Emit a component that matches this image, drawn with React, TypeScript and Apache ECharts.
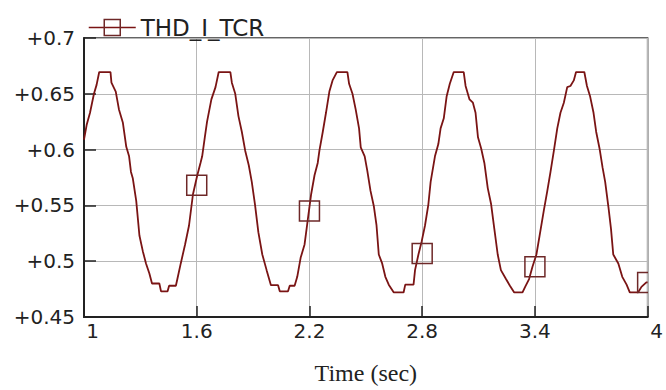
import React, { useEffect, useRef } from "react";
import * as echarts from "echarts";

const SERIES_NAME = "THD_I_TCR";
const X_NAME = "Time (sec)";

const TIME = [
  1.0, 1.014, 1.032, 1.053, 1.067, 1.081, 1.141, 1.146, 1.169, 1.186, 1.207, 1.225, 1.24, 1.25, 1.26,
  1.278, 1.295, 1.313, 1.33, 1.348, 1.362, 1.401, 1.41, 1.445, 1.453, 1.489, 1.497, 1.515, 1.538, 1.559,
  1.58, 1.603, 1.62, 1.629, 1.643, 1.655, 1.678, 1.7, 1.717, 1.779, 1.787, 1.805, 1.822, 1.84, 1.858,
  1.877, 1.893, 1.91, 1.928, 1.949, 1.972, 1.995, 2.033, 2.042, 2.086, 2.095, 2.121, 2.135, 2.153, 2.174,
  2.191, 2.209, 2.227, 2.244, 2.253, 2.271, 2.288, 2.306, 2.323, 2.346, 2.402, 2.411, 2.429, 2.446, 2.464,
  2.473, 2.494, 2.508, 2.525, 2.543, 2.557, 2.569, 2.587, 2.604, 2.622, 2.649, 2.701, 2.71, 2.754, 2.762,
  2.78, 2.797, 2.815, 2.833, 2.845, 2.868, 2.886, 2.898, 2.915, 2.93, 2.947, 2.968, 3.021, 3.031, 3.052,
  3.07, 3.084, 3.097, 3.114, 3.131, 3.149, 3.167, 3.184, 3.202, 3.219, 3.246, 3.267, 3.29, 3.334, 3.348,
  3.369, 3.387, 3.408, 3.425, 3.448, 3.466, 3.483, 3.501, 3.519, 3.536, 3.554, 3.572, 3.589, 3.607, 3.619,
  3.663, 3.677, 3.694, 3.712, 3.726, 3.744, 3.76, 3.774, 3.791, 3.805, 3.817, 3.844, 3.865, 3.888, 3.905,
  3.949, 3.967, 3.993, 4.0,
];

const THD = [
  0.609, 0.622, 0.633, 0.65, 0.658, 0.6695, 0.6695, 0.66, 0.652, 0.636, 0.624, 0.6025, 0.594, 0.58, 0.574,
  0.554, 0.523, 0.509, 0.498, 0.489, 0.48, 0.48, 0.473, 0.473, 0.478, 0.478, 0.484, 0.498, 0.515, 0.532,
  0.56, 0.577, 0.588, 0.594, 0.611, 0.625, 0.645, 0.656, 0.6695, 0.6695, 0.66, 0.65, 0.63, 0.616, 0.599,
  0.586, 0.571, 0.551, 0.526, 0.506, 0.492, 0.4785, 0.4785, 0.473, 0.473, 0.478, 0.478, 0.486, 0.503, 0.515,
  0.537, 0.56, 0.577, 0.588, 0.599, 0.616, 0.633, 0.652, 0.662, 0.6695, 0.6695, 0.659, 0.65, 0.636, 0.619,
  0.602, 0.594, 0.581, 0.563, 0.549, 0.532, 0.506, 0.498, 0.486, 0.479, 0.472, 0.472, 0.479, 0.479, 0.492,
  0.506, 0.5175, 0.532, 0.551, 0.571, 0.594, 0.605, 0.619, 0.628, 0.6475, 0.659, 0.6695, 0.6695, 0.657, 0.645,
  0.642, 0.633, 0.611, 0.601, 0.588, 0.5655, 0.551, 0.529, 0.506, 0.492, 0.484, 0.478, 0.472, 0.472, 0.477,
  0.484, 0.495, 0.506, 0.523, 0.546, 0.563, 0.58, 0.599, 0.619, 0.633, 0.642, 0.656, 0.657, 0.662, 0.6695,
  0.6695, 0.657, 0.6475, 0.633, 0.616, 0.601, 0.584, 0.571, 0.549, 0.529, 0.506, 0.498, 0.486, 0.479, 0.472,
  0.472, 0.477, 0.481, 0.481,
];

const MARK_TIME = [1.6, 2.2, 2.8, 3.4, 4.0];
const MARK_THD = [0.568, 0.545, 0.507, 0.495, 0.481];

const X_MIN = 1;
const X_MAX = 4;
const X_STEP = 0.6;
const Y_MIN = 0.45;
const Y_MAX = 0.7;
const Y_STEP = 0.05;

const LINE_COLOR = "#7a1414";
const MARK_COLOR = "#6e2828";
const AXIS_COLOR = "#222";
const GRID_COLOR = "#b8b8b8";
const SANS = "DejaVu Sans";

export default function App() {
  const ref = useRef<HTMLDivElement>(null);

  useEffect(() => {
    if (!ref.current) return;
    const chart = echarts.init(ref.current, null, { renderer: "svg" });
    const lineData = TIME.map((t, i) => [t - X_MIN, THD[i]]);
    const markData = MARK_TIME.map((t, i) => [t - X_MIN, MARK_THD[i]]);
    const span = X_MAX - X_MIN;

    const xFmt = (v: number) => {
      const s = String(parseFloat((v + X_MIN).toFixed(2)));
      if (Math.abs(v) < 1e-6) return `{l|${s}}`;
      if (Math.abs(v - span) < 1e-6) return `{r|${s}}`;
      return `{n|${s}}`;
    };
    const labelBase = { fontFamily: SANS, fontSize: 20, color: AXIS_COLOR };

    chart.setOption({
      animation: false,
      backgroundColor: "#ffffff",
      grid: {
        left: 84,
        right: 14,
        top: 38,
        bottom: 57,
        show: true,
        borderColor: "#333",
        borderWidth: 1.5,
        backgroundColor: "transparent",
      },
      legend: {
        data: [SERIES_NAME],
        left: 83,
        top: 11,
        itemWidth: 47,
        itemHeight: 20,
        textStyle: { fontFamily: SANS, fontSize: 23, color: "#222" },
        itemStyle: { color: "rgba(0,0,0,0)", borderColor: MARK_COLOR, borderWidth: 1.5 },
        lineStyle: { color: LINE_COLOR, width: 1.5 },
      },
      xAxis: {
        type: "value",
        min: 0,
        max: span,
        interval: X_STEP,
        name: X_NAME,
        nameLocation: "middle",
        nameGap: 44,
        nameTextStyle: { fontFamily: "Liberation Serif", fontSize: 24, color: "#222" },
        axisLine: { show: true, onZero: false, lineStyle: { color: AXIS_COLOR, width: 2 } },
        axisTick: { show: true, inside: true, length: 11, lineStyle: { color: AXIS_COLOR, width: 1.5 } },
        splitLine: { show: true, lineStyle: { color: GRID_COLOR, width: 1 } },
        axisLabel: {
          showMinLabel: true,
          showMaxLabel: true,
          margin: 4,
          formatter: xFmt,
          rich: {
            n: { ...labelBase },
            l: { ...labelBase, padding: [0, 0, 0, 17] },
            r: { ...labelBase, padding: [0, 0, 0, 18] },
          },
        },
      },
      yAxis: {
        type: "value",
        min: Y_MIN,
        max: Y_MAX,
        interval: Y_STEP,
        axisLine: { show: true, onZero: false, lineStyle: { color: AXIS_COLOR, width: 2 } },
        axisTick: { show: true, inside: true, length: 12, lineStyle: { color: AXIS_COLOR, width: 1.5 } },
        splitLine: { show: true, lineStyle: { color: GRID_COLOR, width: 1 } },
        axisLabel: {
          ...labelBase,
          margin: 9,
          padding: [8, 0, 0, 0],
          showMinLabel: true,
          showMaxLabel: true,
          formatter: (v: number) => "+" + String(parseFloat(v.toFixed(2))),
        },
      },
      series: [
        {
          type: "line",
          name: SERIES_NAME,
          data: lineData,
          symbol: "rect",
          symbolSize: 16,
          showSymbol: false,
          clip: true,
          lineStyle: { color: LINE_COLOR, width: 1.8 },
          itemStyle: { color: "rgba(0,0,0,0)", borderColor: MARK_COLOR, borderWidth: 1.5 },
          z: 2,
        },
        {
          type: "custom",
          name: "markers",
          data: markData,
          clip: true,
          silent: true,
          z: 3,
          encode: { x: 0, y: 1 },
          renderItem: (_params: any, api: any) => {
            const p = api.coord([api.value(0), api.value(1)]);
            const s = 20;
            return {
              type: "rect",
              shape: { x: p[0] - s / 2, y: p[1] - s / 2, width: s, height: s },
              style: { fill: "none", stroke: MARK_COLOR, lineWidth: 1.5 },
            };
          },
        },
      ],
    });

    return () => chart.dispose();
  }, []);

  return (
    <div
      ref={ref}
      style={{ position: "fixed", left: 0, top: 0, width: 666, height: 390, background: "#fff" }}
    />
  );
}
